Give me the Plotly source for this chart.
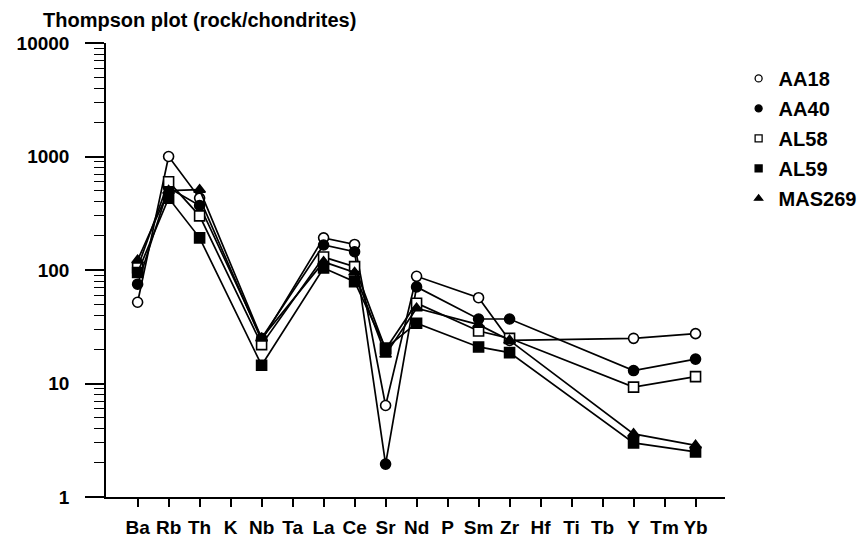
import plotly.graph_objects as go

elements = ["Ba", "Rb", "Th", "K", "Nb", "Ta", "La", "Ce", "Sr", "Nd", "P",
            "Sm", "Zr", "Hf", "Ti", "Tb", "Y", "Tm", "Yb"]
measured = ["Ba", "Rb", "Th", "Nb", "La", "Ce", "Sr", "Nd", "Sm", "Zr", "Y", "Yb"]

aa18 = [52, 1000, 430, 24, 192, 168, 6.4, 88, 57, 24, 25, 27.5]
aa40 = [75, 530, 370, 25, 166, 145, 1.95, 71, 37, 37, 13, 16.4]
al58 = [105, 600, 300, 22, 130, 107, 20, 51, 29, 25, 9.3, 11.5]
al59 = [95, 430, 192, 14.5, 104, 79, 20.5, 34, 21, 18.7, 3.0, 2.5]
mas269 = [122, 500, 510, 25, 118, 95, 18, 46, 33, 24, 3.6, 2.85]

series_names = ["AA18", "AA40", "AL58", "AL59", "MAS269"]
series_values = [aa18, aa40, al58, al59, mas269]
series_symbols = ["circle", "circle", "square", "square", "triangle-up"]
series_fills = ["white", "black", "white", "black", "black"]

y_ticks = [1, 10, 100, 1000, 10000]
y_ticktext = ["1", "10", "100", "1000", "10000"]

FONT = "Liberation Sans, Arial, sans-serif"

fig = go.Figure()

for name, vals, sym, fill in zip(series_names, series_values, series_symbols, series_fills):
    fig.add_trace(go.Scatter(
        x=measured, y=vals, mode="lines+markers", name=name, showlegend=False,
        line=dict(color="black", width=1.7),
        marker=dict(symbol=sym, size=10, color=fill, line=dict(color="black", width=1.6)),
    ))

for name, sym, fill in zip(series_names, series_symbols, series_fills):
    fig.add_trace(go.Scatter(
        x=[None], y=[None], mode="markers", name=name, legendgroup=name,
        marker=dict(symbol=sym, size=7, color=fill, line=dict(color="black", width=1.3)),
    ))

minor_vals = [m * 10 ** k for k in range(4) for m in range(2, 10)]

fig.update_layout(
    width=866, height=540,
    margin=dict(l=106, r=141, t=43, b=43, autoexpand=False),
    paper_bgcolor="white", plot_bgcolor="white",
    font=dict(family=FONT, size=19, color="black", weight="bold"),
    title=dict(text="Thompson plot (rock/chondrites)", xref="container", yref="container",
               x=43 / 866, xanchor="left", y=1 - 20 / 540, yanchor="middle",
               font=dict(size=20, family=FONT, color="black", weight="bold")),
    showlegend=True,
    legend=dict(x=1.022, xanchor="left", y=0.965, yanchor="top",
                font=dict(size=20, family=FONT, weight="bold"), traceorder="grouped",
                tracegroupgap=1, bgcolor="rgba(0,0,0,0)"),
    xaxis=dict(type="category", categoryorder="array", categoryarray=elements,
               tickmode="array", tickvals=elements, ticktext=elements, automargin=False,
               range=[-1.02, 18.95], showline=True, linecolor="black", linewidth=1.5,
               ticks="outside", ticklen=8, tickwidth=1.5, tickcolor="black",
               showgrid=False, zeroline=False, ticklabelstandoff=4,
               tickfont=dict(size=19, weight="bold")),
    yaxis=dict(type="log", range=[0, 4], tickmode="array", tickvals=y_ticks,
               ticktext=y_ticktext, showline=True, linecolor="black", linewidth=1.5,
               automargin=False,
               ticks="outside", ticklen=19, tickwidth=1.5, tickcolor="black",
               showgrid=False, zeroline=False, ticklabelstandoff=12,
               tickfont=dict(size=19, weight="bold"),
               minor=dict(tickmode="array", tickvals=minor_vals, ticks="outside",
                          ticklen=10, tickwidth=1.3, tickcolor="black", showgrid=False)),
)

fig.write_html("out.html", config={"displayModeBar": False},
               post_script="document.body.style.margin='0';document.body.style.overflow='hidden';")
